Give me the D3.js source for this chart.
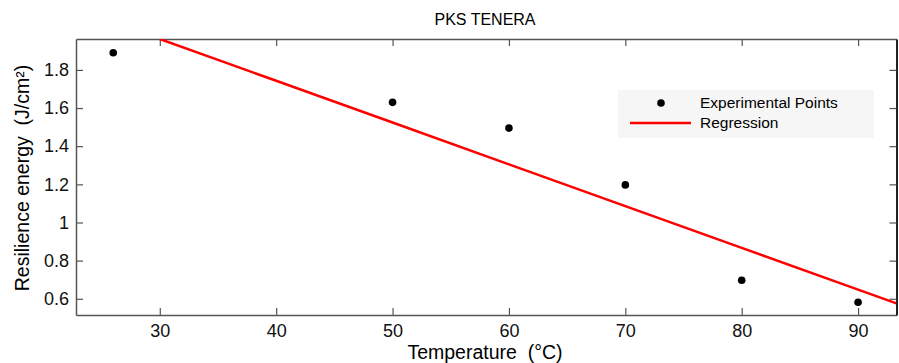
<!DOCTYPE html>
<html>
<head>
<meta charset="utf-8">
<script src="https://cdn.jsdelivr.net/npm/d3@7"></script>
<style>
  body { margin: 0; background: #fff; }
  svg { display: block; font-family: "Liberation Sans", Arial, sans-serif; }
  text { white-space: pre; }
</style>
</head>
<body>
<div id="chart"></div>
<script>
// experimental points
const temps = [26, 50, 60, 70, 80, 90];
const energy = [1.89, 1.63, 1.495, 1.197, 0.697, 0.582];

// regression line
const regTemps = [30, 40, 50, 60, 70, 80, 90, 93.3];
const regEnergy = [1.962, 1.743, 1.524, 1.305, 1.086, 0.867, 0.648, 0.576];

const xTicks = [30, 40, 50, 60, 70, 80, 90];
const yTicks = [0.6, 0.8, 1, 1.2, 1.4, 1.6, 1.8];

const W = 899, H = 363;
const margin = { top: 39, right: 2.5, bottom: 48, left: 76 };
const width = W - margin.left - margin.right;
const height = H - margin.top - margin.bottom;

const svg = d3.select('#chart').append('svg')
  .attr('width', W)
  .attr('height', H);

const g = svg.append('g')
  .attr('transform', `translate(${margin.left},${margin.top})`);

const x = d3.scaleLinear().domain([22.8, 93.3]).range([0, width]);
const y = d3.scaleLinear().domain([0.515, 1.962]).range([height, 0]);

const axisColor = '#555';
const tickLen = 7;

// axes, ticks pointing inward on all sides
const axBottom = g.append('g')
  .attr('transform', `translate(0,${height})`)
  .call(d3.axisBottom(x).tickValues(xTicks).tickSizeInner(-tickLen).tickSizeOuter(0).tickPadding(9).tickFormat(d3.format('d')));
const axTop = g.append('g')
  .call(d3.axisTop(x).tickValues(xTicks).tickSizeInner(-tickLen).tickSizeOuter(0).tickFormat(''));
const axLeft = g.append('g')
  .call(d3.axisLeft(y).tickValues(yTicks).tickSizeInner(-tickLen).tickSizeOuter(0).tickPadding(7).tickFormat(d => d3.format('')(d)));
const axRight = g.append('g')
  .attr('transform', `translate(${width},0)`)
  .call(d3.axisRight(y).tickValues(yTicks).tickSizeInner(-tickLen).tickSizeOuter(0).tickFormat(''));

[axBottom, axTop, axLeft, axRight].forEach(a => {
  a.select('.domain').attr('stroke', axisColor).attr('stroke-width', 1.5);
  a.selectAll('.tick line').attr('stroke', axisColor).attr('stroke-width', 1.2);
  a.selectAll('.tick text').attr('fill', '#111').style('font-size', '18px');
});
axRight.select('.domain').attr('stroke', '#222').attr('stroke-width', 2);

// clip
g.append('clipPath').attr('id', 'clip')
  .append('rect').attr('width', width).attr('height', height);

const line = d3.line()
  .x((d, i) => x(regTemps[i]))
  .y((d, i) => y(regEnergy[i]));

g.append('path')
  .datum(regTemps)
  .attr('clip-path', 'url(#clip)')
  .attr('fill', 'none')
  .attr('stroke', '#f00')
  .attr('stroke-width', 2.5)
  .attr('d', line);

g.selectAll('.pt')
  .data(temps)
  .enter().append('circle')
  .attr('class', 'pt')
  .attr('cx', d => x(d))
  .attr('cy', (d, i) => y(energy[i]))
  .attr('r', 3.8)
  .attr('fill', '#000');

// title and labels
svg.append('text')
  .attr('x', 485).attr('y', 25)
  .attr('text-anchor', 'middle')
  .style('font-size', '16px')
  .text('PKS TENERA');

svg.append('text')
  .attr('x', 485).attr('y', 359)
  .attr('text-anchor', 'middle')
  .style('font-size', '19.5px')
  .text('Temperature  (°C)');

svg.append('text')
  .attr('transform', 'translate(29,178) rotate(-90)')
  .attr('text-anchor', 'middle')
  .style('font-size', '19.5px')
  .text('Resilience energy  (J/cm²)');

// legend
const lg = svg.append('g').attr('transform', 'translate(618,90)');
lg.append('rect')
  .attr('width', 256).attr('height', 48)
  .attr('fill', '#f6f6f6');
lg.append('circle')
  .attr('cx', 43).attr('cy', 13).attr('r', 3.8).attr('fill', '#000');
lg.append('line')
  .attr('x1', 12).attr('x2', 73).attr('y1', 33).attr('y2', 33)
  .attr('stroke', '#f00').attr('stroke-width', 2.5);
lg.append('text')
  .attr('x', 82).attr('y', 18)
  .style('font-size', '15.5px')
  .text('Experimental Points');
lg.append('text')
  .attr('x', 82).attr('y', 38)
  .style('font-size', '15.5px')
  .text('Regression');
</script>
</body>
</html>
